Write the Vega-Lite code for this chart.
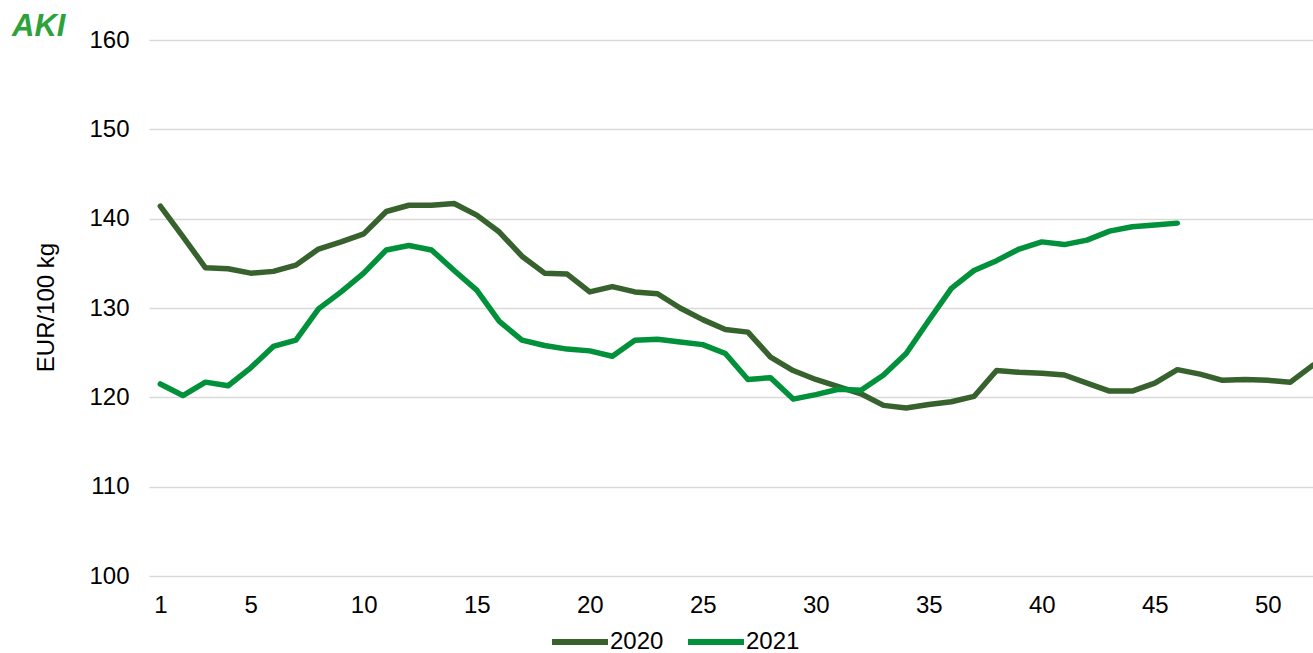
{
  "$schema": "https://vega.github.io/schema/vega-lite/v6.json",
  "width": 1164,
  "height": 536,
  "autosize": {"type": "none"},
  "padding": {"left": 149, "top": 40, "right": 0, "bottom": 77},
  "background": "white",
  "title": {
    "text": "AKI",
    "anchor": "start",
    "frame": "group",
    "dx": -137,
    "dy": 42,
    "offset": 3,
    "baseline": "alphabetic",
    "font": "Liberation Sans",
    "fontSize": 31,
    "fontWeight": "bold",
    "fontStyle": "italic",
    "color": "#2ea23a"
  },
  "data": {
    "values": [
      {"week": 1, "year": "2020", "price": 141.4},
      {"week": 2, "year": "2020", "price": 138.0},
      {"week": 3, "year": "2020", "price": 134.5},
      {"week": 4, "year": "2020", "price": 134.4},
      {"week": 5, "year": "2020", "price": 133.9},
      {"week": 6, "year": "2020", "price": 134.1},
      {"week": 7, "year": "2020", "price": 134.8},
      {"week": 8, "year": "2020", "price": 136.6},
      {"week": 9, "year": "2020", "price": 137.4},
      {"week": 10, "year": "2020", "price": 138.3},
      {"week": 11, "year": "2020", "price": 140.8},
      {"week": 12, "year": "2020", "price": 141.5},
      {"week": 13, "year": "2020", "price": 141.5},
      {"week": 14, "year": "2020", "price": 141.7},
      {"week": 15, "year": "2020", "price": 140.4},
      {"week": 16, "year": "2020", "price": 138.5},
      {"week": 17, "year": "2020", "price": 135.8},
      {"week": 18, "year": "2020", "price": 133.9},
      {"week": 19, "year": "2020", "price": 133.8},
      {"week": 20, "year": "2020", "price": 131.8},
      {"week": 21, "year": "2020", "price": 132.4},
      {"week": 22, "year": "2020", "price": 131.8},
      {"week": 23, "year": "2020", "price": 131.6},
      {"week": 24, "year": "2020", "price": 130.0},
      {"week": 25, "year": "2020", "price": 128.7},
      {"week": 26, "year": "2020", "price": 127.6},
      {"week": 27, "year": "2020", "price": 127.3},
      {"week": 28, "year": "2020", "price": 124.5},
      {"week": 29, "year": "2020", "price": 123.0},
      {"week": 30, "year": "2020", "price": 122.0},
      {"week": 31, "year": "2020", "price": 121.2},
      {"week": 32, "year": "2020", "price": 120.4},
      {"week": 33, "year": "2020", "price": 119.1},
      {"week": 34, "year": "2020", "price": 118.8},
      {"week": 35, "year": "2020", "price": 119.2},
      {"week": 36, "year": "2020", "price": 119.5},
      {"week": 37, "year": "2020", "price": 120.1},
      {"week": 38, "year": "2020", "price": 123.0},
      {"week": 39, "year": "2020", "price": 122.8},
      {"week": 40, "year": "2020", "price": 122.7},
      {"week": 41, "year": "2020", "price": 122.5},
      {"week": 42, "year": "2020", "price": 121.6},
      {"week": 43, "year": "2020", "price": 120.7},
      {"week": 44, "year": "2020", "price": 120.7},
      {"week": 45, "year": "2020", "price": 121.6},
      {"week": 46, "year": "2020", "price": 123.1},
      {"week": 47, "year": "2020", "price": 122.6},
      {"week": 48, "year": "2020", "price": 121.9},
      {"week": 49, "year": "2020", "price": 122.0},
      {"week": 50, "year": "2020", "price": 121.9},
      {"week": 51, "year": "2020", "price": 121.7},
      {"week": 52, "year": "2020", "price": 123.6},
      {"week": 1, "year": "2021", "price": 121.5},
      {"week": 2, "year": "2021", "price": 120.2},
      {"week": 3, "year": "2021", "price": 121.7},
      {"week": 4, "year": "2021", "price": 121.3},
      {"week": 5, "year": "2021", "price": 123.3},
      {"week": 6, "year": "2021", "price": 125.7},
      {"week": 7, "year": "2021", "price": 126.4},
      {"week": 8, "year": "2021", "price": 129.9},
      {"week": 9, "year": "2021", "price": 131.8},
      {"week": 10, "year": "2021", "price": 133.9},
      {"week": 11, "year": "2021", "price": 136.5},
      {"week": 12, "year": "2021", "price": 137.0},
      {"week": 13, "year": "2021", "price": 136.5},
      {"week": 14, "year": "2021", "price": 134.2},
      {"week": 15, "year": "2021", "price": 132.0},
      {"week": 16, "year": "2021", "price": 128.5},
      {"week": 17, "year": "2021", "price": 126.4},
      {"week": 18, "year": "2021", "price": 125.8},
      {"week": 19, "year": "2021", "price": 125.4},
      {"week": 20, "year": "2021", "price": 125.2},
      {"week": 21, "year": "2021", "price": 124.6},
      {"week": 22, "year": "2021", "price": 126.4},
      {"week": 23, "year": "2021", "price": 126.5},
      {"week": 24, "year": "2021", "price": 126.2},
      {"week": 25, "year": "2021", "price": 125.9},
      {"week": 26, "year": "2021", "price": 124.9},
      {"week": 27, "year": "2021", "price": 122.0},
      {"week": 28, "year": "2021", "price": 122.2},
      {"week": 29, "year": "2021", "price": 119.8},
      {"week": 30, "year": "2021", "price": 120.3},
      {"week": 31, "year": "2021", "price": 120.9},
      {"week": 32, "year": "2021", "price": 120.8},
      {"week": 33, "year": "2021", "price": 122.5},
      {"week": 34, "year": "2021", "price": 124.9},
      {"week": 35, "year": "2021", "price": 128.6},
      {"week": 36, "year": "2021", "price": 132.2},
      {"week": 37, "year": "2021", "price": 134.2},
      {"week": 38, "year": "2021", "price": 135.3},
      {"week": 39, "year": "2021", "price": 136.6},
      {"week": 40, "year": "2021", "price": 137.4},
      {"week": 41, "year": "2021", "price": 137.1},
      {"week": 42, "year": "2021", "price": 137.6},
      {"week": 43, "year": "2021", "price": 138.6},
      {"week": 44, "year": "2021", "price": 139.1},
      {"week": 45, "year": "2021", "price": 139.3},
      {"week": 46, "year": "2021", "price": 139.5}
    ]
  },
  "mark": {"type": "line", "strokeWidth": 5.5, "strokeCap": "round", "strokeJoin": "round", "clip": true},
  "encoding": {
    "x": {
      "field": "week",
      "type": "quantitative",
      "scale": {"domain": [0.5, 52], "nice": false, "zero": false},
      "axis": {
        "title": null,
        "values": [1, 5, 10, 15, 20, 25, 30, 35, 40, 45, 50],
        "grid": false,
        "domain": false,
        "ticks": false,
        "labelPadding": 17,
        "labelFont": "Liberation Sans",
        "labelFontSize": 24,
        "labelColor": "#000000"
      }
    },
    "y": {
      "field": "price",
      "type": "quantitative",
      "scale": {"domain": [100, 160], "nice": false, "zero": false},
      "axis": {
        "title": "EUR/100 kg",
        "values": [100, 110, 120, 130, 140, 150, 160],
        "domain": false,
        "ticks": false,
        "grid": true,
        "gridColor": "#d9d9d9",
        "gridWidth": 1.5,
        "labelPadding": 20,
        "labelFont": "Liberation Sans",
        "labelFontSize": 24,
        "labelColor": "#000000",
        "titleFont": "Liberation Sans",
        "titleFontSize": 24,
        "titleFontWeight": "normal",
        "titleColor": "#000000",
        "titleX": -96,
        "titleY": 267,
        "titleBaseline": "alphabetic",
        "titleAngle": 270,
        "titleAlign": "center"
      }
    },
    "color": {
      "field": "year",
      "type": "nominal",
      "scale": {"domain": ["2020", "2021"], "range": ["#37622d", "#00913a"]},
      "legend": {
        "title": null,
        "orient": "none",
        "direction": "horizontal",
        "legendX": 400,
        "legendY": 571,
        "symbolType": "stroke",
        "symbolSize": 3136,
        "symbolStrokeWidth": 6,
        "labelFont": "Liberation Sans",
        "labelFontSize": 24,
        "labelColor": "#000000",
        "labelOffset": -1,
        "columnPadding": 12
      }
    }
  },
  "config": {"view": {"stroke": null}}
}
